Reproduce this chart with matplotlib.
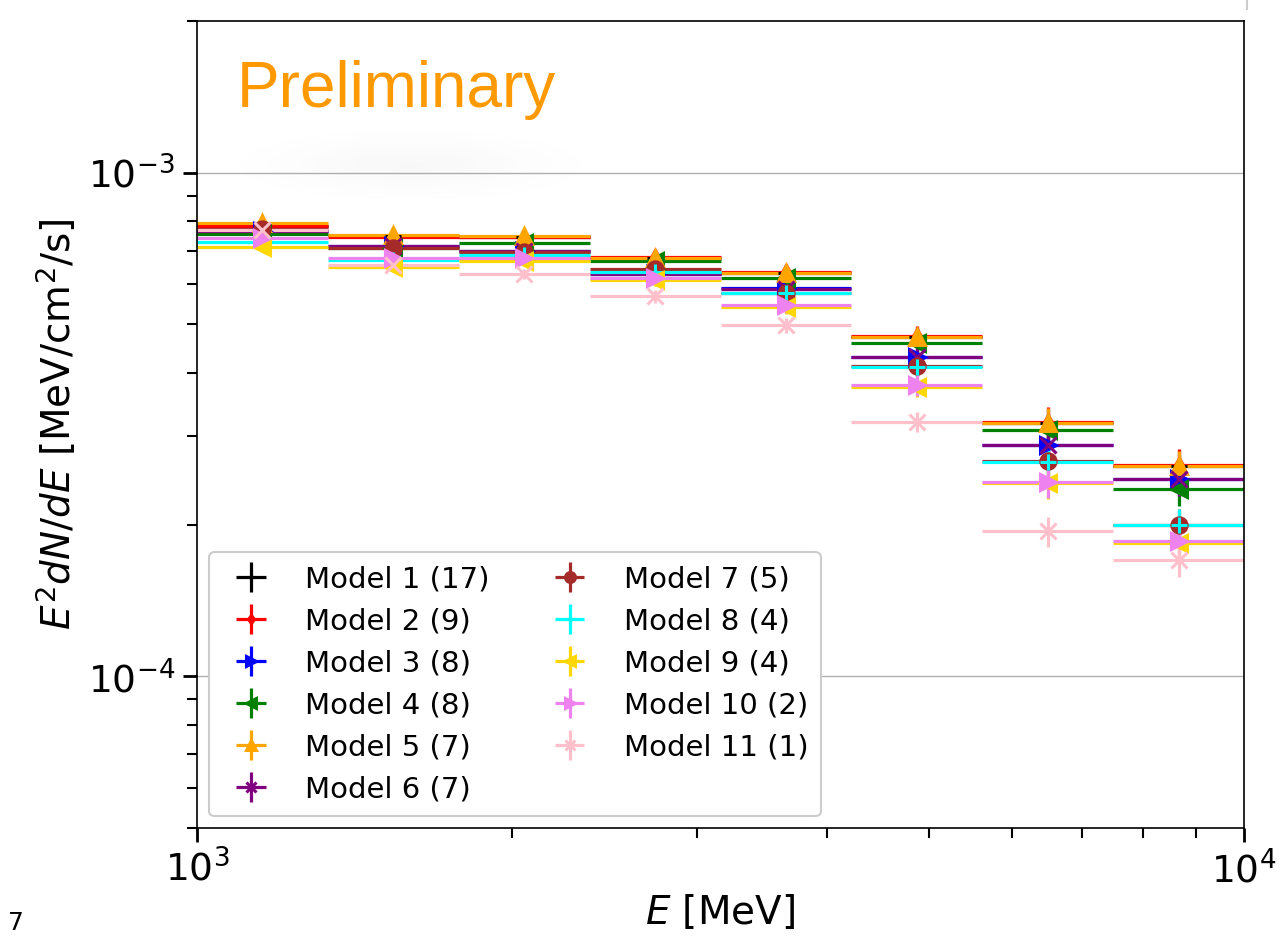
import numpy as np
import matplotlib
matplotlib.use("Agg")
import matplotlib.pyplot as plt
from matplotlib.ticker import LogLocator, NullFormatter, LogFormatterSciNotation
from matplotlib.lines import Line2D

# Energy bin edges [MeV] (8 log-spaced bins from 1 GeV to 10 GeV)
e_edges = [1000.0, 1333.5, 1778.3, 2371.4, 3162.3, 4217.0, 5623.4, 7498.9, 10000.0]

# Fractional uncertainty of the flux in each bin
rel_err = [0.02, 0.02, 0.022, 0.03, 0.034, 0.047, 0.07, 0.075]

# E^2 dN/dE per model [1e-4 MeV/cm^2/s]
model_1 = [7.85, 7.48, 7.45, 6.78, 6.33, 4.72, 3.19, 2.62]
model_2 = [7.85, 7.45, 7.44, 6.80, 6.34, 4.74, 3.20, 2.63]
model_3 = [7.66, 7.15, 6.99, 6.28, 5.90, 4.30, 2.88, 2.46]
model_4 = [7.54, 7.08, 7.26, 6.69, 6.19, 4.58, 3.08, 2.36]
model_5 = [7.94, 7.52, 7.48, 6.76, 6.32, 4.71, 3.18, 2.61]
model_6 = [7.66, 7.15, 6.99, 6.28, 5.87, 4.31, 2.88, 2.46]
model_7 = [7.74, 7.10, 6.96, 6.43, 5.77, 4.14, 2.68, 2.00]
model_8 = [7.27, 6.70, 6.86, 6.36, 5.77, 4.11, 2.67, 2.00]
model_9 = [7.13, 6.49, 6.68, 6.13, 5.42, 3.76, 2.42, 1.84]
model_10 = [7.43, 6.78, 6.76, 6.19, 5.46, 3.78, 2.43, 1.86]
model_11 = [7.68, 6.56, 6.29, 5.69, 4.98, 3.20, 1.94, 1.70]

labels = ["Model 1 (17)", "Model 2 (9)", "Model 3 (8)", "Model 4 (8)",
          "Model 5 (7)", "Model 6 (7)", "Model 7 (5)", "Model 8 (4)",
          "Model 9 (4)", "Model 10 (2)", "Model 11 (1)"]
series = [model_1, model_2, model_3, model_4, model_5, model_6,
          model_7, model_8, model_9, model_10, model_11]
colors = ["black", "red", "blue", "green", "orange", "purple",
          "brown", "cyan", "gold", "violet", "pink"]
markers = ["+", "d", ">", "<", "^", "x", "o", "+", "<", ">", "x"]
msizes = [11, 7, 11, 11, 11, 11, 11, 11, 11, 11, 11]

edges = np.array(e_edges)
lo, hi = edges[:-1], edges[1:]
centers = np.sqrt(lo * hi)
xerr = [centers - lo, hi - centers]
rel = np.array(rel_err)

fig = plt.figure(figsize=(12.8, 9.36), dpi=100)
ax = fig.add_axes([197 / 1280, 1 - 828 / 936, (1244 - 197) / 1280, (828 - 21) / 936])

for vals, lab, c, m, s in zip(series, labels, colors, markers, msizes):
    y = np.array(vals) * 1e-4
    ax.errorbar(centers, y, xerr=xerr, yerr=y * rel, marker=m, linestyle="none",
                color=c, ms=s, mew=2.2, elinewidth=2.3, capsize=0, label=lab)

ax.set_xscale("log")
ax.set_yscale("log")
ax.set_xlim(1e3, 1e4)
ax.set_ylim(5e-5, 2e-3)

ax.xaxis.set_major_locator(LogLocator(base=10, numticks=10))
ax.xaxis.set_minor_locator(LogLocator(base=10, subs=np.arange(2, 10), numticks=20))
ax.yaxis.set_major_locator(LogLocator(base=10, numticks=10))
ax.yaxis.set_minor_locator(LogLocator(base=10, subs=np.arange(2, 10), numticks=20))
ax.xaxis.set_major_formatter(LogFormatterSciNotation())
ax.yaxis.set_major_formatter(LogFormatterSciNotation())
ax.xaxis.set_minor_formatter(NullFormatter())
ax.yaxis.set_minor_formatter(NullFormatter())

ax.tick_params(which="major", direction="out", length=10, width=2.0, labelsize=27, pad=6)
ax.tick_params(which="minor", direction="out", length=7.5, width=1.5)
for sp in ax.spines.values():
    sp.set_linewidth(1.2)

ax.yaxis.grid(True, which="major", color="#b0b0b0", linewidth=1.0)
ax.set_axisbelow(True)

ax.set_xlabel(r"$E$ [MeV]", fontsize=28, labelpad=2)
ax.set_ylabel(r"$E^2dN/dE$ [MeV/cm$^2$/s]", fontsize=28, labelpad=6)

leg = ax.legend(ncol=2, loc="lower left", fontsize=21, markerscale=0.65,
                handletextpad=0.85, labelspacing=0.48, columnspacing=1.75,
                borderaxespad=0.4, borderpad=0.45, fancybox=True, framealpha=1.0,
                edgecolor="#cccccc")
leg.get_frame().set_linewidth(1.5)

# Faint gray haze beneath the watermark
hx = np.linspace(-1, 1, 400)
hy = np.linspace(-1, 1, 80)
HX, HY = np.meshgrid(hx, hy)
alpha = 0.04 * np.exp(-3.0 * (HX ** 2 + HY ** 2))
haze = np.zeros((80, 400, 4))
haze[..., :3] = 0.35
haze[..., 3] = alpha
hax = fig.add_axes([215 / 1280, 1 - 205 / 936, 390 / 1280, 80 / 936])
hax.imshow(haze, aspect="auto", interpolation="bilinear")
hax.axis("off")

fig.text(237 / 1280, 1 - 107 / 936, "Preliminary", fontsize=46, color="#ff9900",
         family="Liberation Sans", ha="left", va="baseline")

fig.text(8 / 1280, 1 - 930 / 936, "7", fontsize=18, ha="left", va="baseline")
fig.add_artist(Line2D([1247 / 1280, 1247 / 1280], [1.0, 1 - 9 / 936],
                      color="#cccccc", linewidth=1.5))

fig.savefig("out.png", dpi=100)
